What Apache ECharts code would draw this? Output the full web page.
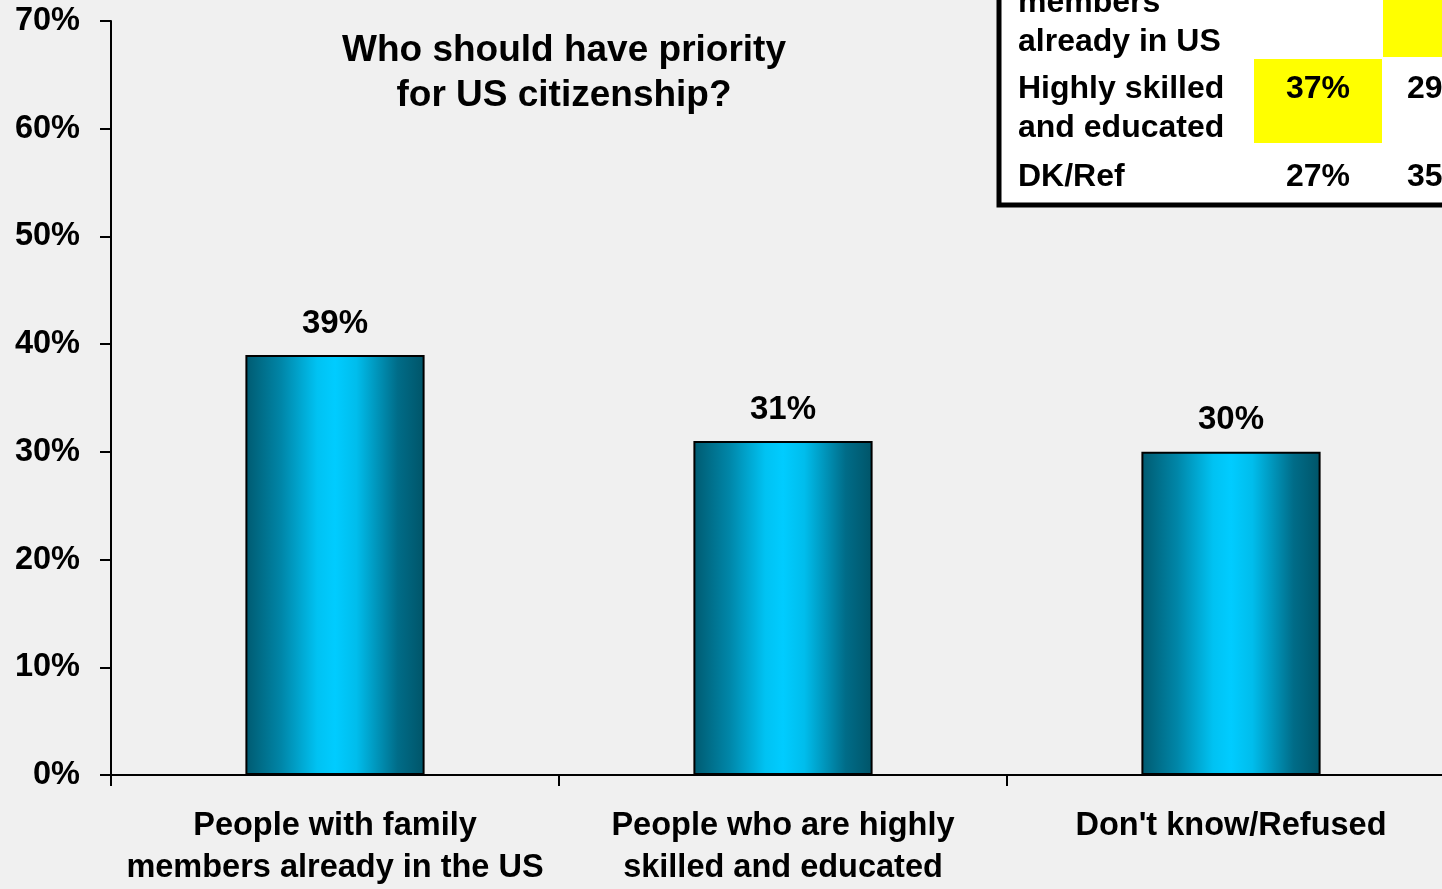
<!DOCTYPE html>
<html>
<head>
<meta charset="utf-8">
<script src="https://cdn.jsdelivr.net/npm/echarts@6/dist/echarts.min.js"></script>
<style>
html,body{margin:0;padding:0;background:#f0f0f0;}
#chart{width:1442px;height:889px;}
</style>
</head>
<body>
<div id="chart"></div>
<script>
var categories = ['People with family\nmembers already in the US', 'People who are highly\nskilled and educated', "Don't know/Refused"];
var values = [39, 31, 30];
var titleText = 'Who should have priority\nfor US citizenship?';
var tableRows = ['Family\nmembers\nalready in US', 'Highly skilled\nand educated', 'DK/Ref'];
var tableCol1 = ['', '37%', '27%'];
var tableCol2 = ['', '29%', '35%'];

var FONT = '"Liberation Sans", Arial, sans-serif';
var chart = echarts.init(document.getElementById('chart'));

var rowLabelY = [-55, 70, 158];
var graphics = [
  {type:'rect', shape:{x:999, y:-200, width:520, height:405}, style:{fill:'#ffffff', stroke:'#000', lineWidth:5}, z:10},
  {type:'rect', shape:{x:1383, y:-100, width:140, height:157}, style:{fill:'#ffff00'}, z:11},
  {type:'rect', shape:{x:1254, y:59, width:128, height:84}, style:{fill:'#ffff00'}, z:11}
];
tableRows.forEach(function(t, i){
  graphics.push({type:'text', x:1018, y:rowLabelY[i], z:12,
    style:{text:t, font:'bold 32px ' + FONT, fill:'#000', lineHeight:39, textAlign:'left', textVerticalAlign:'top'}});
  if (tableCol1[i]) graphics.push({type:'text', x:1318, y:rowLabelY[i], z:12,
    style:{text:tableCol1[i], font:'bold 32px ' + FONT, fill:'#000', lineHeight:39, textAlign:'center', textVerticalAlign:'top'}});
  if (tableCol2[i]) graphics.push({type:'text', x:1439, y:rowLabelY[i], z:12,
    style:{text:tableCol2[i], font:'bold 32px ' + FONT, fill:'#000', lineHeight:39, textAlign:'center', textVerticalAlign:'top'}});
});

chart.setOption({
  backgroundColor:'#f0f0f0',
  animation:false,
  title:{text:titleText, left:559, top:23, textAlign:'center',
    textStyle:{fontFamily:FONT, fontWeight:'bold', fontSize:37, lineHeight:45, color:'#000'}},
  grid:{left:111, top:21, bottom:114, width:1344, containLabel:false, outerBoundsMode:'none'},
  xAxis:{type:'category', data:categories,
    axisLine:{lineStyle:{color:'#000', width:2}},
    axisTick:{show:true, length:11, lineStyle:{color:'#000', width:2}, alignWithLabel:false},
    axisLabel:{interval:0, margin:30, fontFamily:FONT, fontWeight:'bold', fontSize:32.5, lineHeight:42, color:'#000'}},
  yAxis:{type:'value', min:0, max:70, interval:10,
    splitLine:{show:false},
    axisLine:{show:true, lineStyle:{color:'#000', width:2}},
    axisTick:{show:true, length:11, lineStyle:{color:'#000', width:2}},
    axisLabel:{formatter:'{value}%', margin:31, fontFamily:FONT, fontWeight:'bold', fontSize:32.5, color:'#000'}},
  series:[{type:'bar', data:values, barWidth:'40%',
    itemStyle:{borderColor:'#000', borderWidth:2,
      color:new echarts.graphic.LinearGradient(0,0,1,0,[
        {offset:0, color:'#005a70'},
        {offset:0.2, color:'#0086a8'},
        {offset:0.4, color:'#00c2f2'},
        {offset:0.5, color:'#00ccff'},
        {offset:0.62, color:'#00bdec'},
        {offset:0.85, color:'#006c88'},
        {offset:1, color:'#005468'}])},
    label:{show:true, position:'top', distance:15, formatter:'{c}%',
      fontFamily:FONT, fontWeight:'bold', fontSize:33, color:'#000'}}],
  graphic:graphics
});
</script>
</body>
</html>
